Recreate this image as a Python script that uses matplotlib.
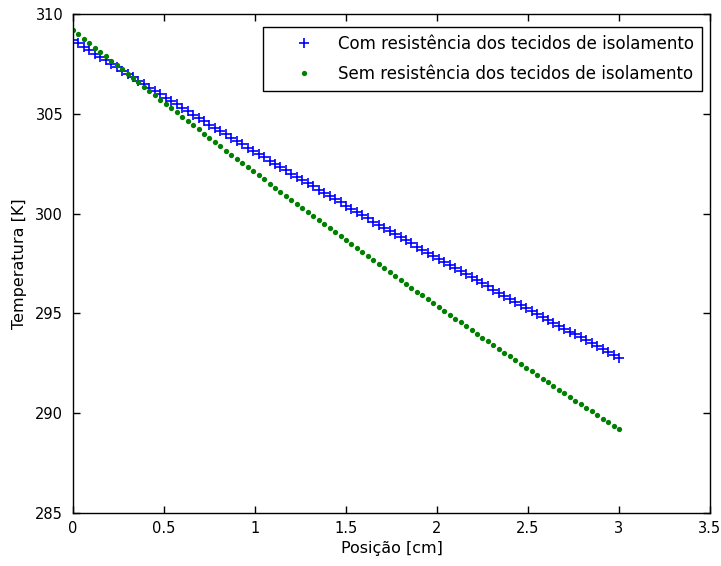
import matplotlib
matplotlib.use("Agg")
import matplotlib.pyplot as plt

# posições [cm], passo 0.03
posicao = [0.00, 0.03, 0.06, 0.09, 0.12, 0.15, 0.18, 0.21, 0.24, 0.27,
           0.30, 0.33, 0.36, 0.39, 0.42, 0.45, 0.48, 0.51, 0.54, 0.57,
           0.60, 0.63, 0.66, 0.69, 0.72, 0.75, 0.78, 0.81, 0.84, 0.87,
           0.90, 0.93, 0.96, 0.99, 1.02, 1.05, 1.08, 1.11, 1.14, 1.17,
           1.20, 1.23, 1.26, 1.29, 1.32, 1.35, 1.38, 1.41, 1.44, 1.47,
           1.50, 1.53, 1.56, 1.59, 1.62, 1.65, 1.68, 1.71, 1.74, 1.77,
           1.80, 1.83, 1.86, 1.89, 1.92, 1.95, 1.98, 2.01, 2.04, 2.07,
           2.10, 2.13, 2.16, 2.19, 2.22, 2.25, 2.28, 2.31, 2.34, 2.37,
           2.40, 2.43, 2.46, 2.49, 2.52, 2.55, 2.58, 2.61, 2.64, 2.67,
           2.70, 2.73, 2.76, 2.79, 2.82, 2.85, 2.88, 2.91, 2.94, 2.97,
           3.00]

# com resistência dos tecidos de isolamento [K]
temp_com = [308.70, 308.53, 308.35, 308.18, 308.01, 307.84, 307.67, 307.50, 307.33, 307.16,
            306.99, 306.82, 306.65, 306.48, 306.31, 306.14, 305.97, 305.80, 305.63, 305.47,
            305.30, 305.13, 304.96, 304.80, 304.63, 304.46, 304.30, 304.13, 303.97, 303.80,
            303.64, 303.47, 303.31, 303.14, 302.98, 302.82, 302.65, 302.49, 302.33, 302.17,
            302.00, 301.84, 301.68, 301.52, 301.36, 301.20, 301.04, 300.88, 300.72, 300.56,
            300.40, 300.24, 300.08, 299.92, 299.76, 299.60, 299.45, 299.29, 299.13, 298.97,
            298.82, 298.66, 298.51, 298.35, 298.19, 298.04, 297.88, 297.73, 297.57, 297.42,
            297.27, 297.11, 296.96, 296.81, 296.65, 296.50, 296.35, 296.19, 296.04, 295.89,
            295.74, 295.59, 295.44, 295.29, 295.14, 294.99, 294.84, 294.69, 294.54, 294.39,
            294.24, 294.09, 293.95, 293.80, 293.65, 293.50, 293.36, 293.21, 293.06, 292.92,
            292.77]

# sem resistência dos tecidos de isolamento [K]
temp_sem = [309.20, 308.98, 308.76, 308.54, 308.32, 308.10, 307.88, 307.66, 307.44, 307.22,
            307.00, 306.79, 306.57, 306.35, 306.14, 305.92, 305.71, 305.49, 305.28, 305.07,
            304.85, 304.64, 304.43, 304.22, 304.00, 303.79, 303.58, 303.37, 303.16, 302.95,
            302.74, 302.53, 302.33, 302.12, 301.91, 301.71, 301.50, 301.29, 301.09, 300.88,
            300.68, 300.47, 300.27, 300.07, 299.86, 299.66, 299.46, 299.26, 299.06, 298.86,
            298.66, 298.46, 298.26, 298.06, 297.86, 297.66, 297.46, 297.26, 297.07, 296.87,
            296.68, 296.48, 296.28, 296.09, 295.90, 295.70, 295.51, 295.32, 295.12, 294.93,
            294.74, 294.55, 294.36, 294.17, 293.98, 293.79, 293.60, 293.41, 293.22, 293.03,
            292.85, 292.66, 292.47, 292.29, 292.10, 291.92, 291.73, 291.55, 291.36, 291.18,
            291.00, 290.81, 290.63, 290.45, 290.27, 290.09, 289.91, 289.73, 289.55, 289.37,
            289.19]

xticks = [0, 0.5, 1, 1.5, 2, 2.5, 3, 3.5]
yticks = [285, 290, 295, 300, 305, 310]

plt.rcParams["font.family"] = ["DejaVu Sans"]
plt.rcParams["font.size"] = 11

fig = plt.figure(figsize=(7.21, 5.66), dpi=100)
ax = fig.add_axes([0.1012, 0.0936, 0.8835, 0.8817])

ax.plot(posicao, temp_com, linestyle="none", marker="+", color=(0, 0, 1),
        markersize=7.5, markeredgewidth=1.2,
        label="Com resistência dos tecidos de isolamento")
ax.plot(posicao, temp_sem, linestyle="none", marker="o", color=(0, 0.5, 0),
        markersize=3.8, markeredgewidth=0,
        label="Sem resistência dos tecidos de isolamento")

ax.set_xlim(0, 3.5)
ax.set_ylim(285, 310)
ax.set_xticks(xticks)
ax.set_xticklabels(["0", "0.5", "1", "1.5", "2", "2.5", "3", "3.5"])
ax.set_yticks(yticks)
ax.tick_params(direction="in", top=True, right=True, length=5, width=1,
               labelsize=10.5)
ax.tick_params(axis="x", pad=6)
ax.tick_params(axis="y", pad=7)
for s in ax.spines.values():
    s.set_linewidth(1)

ax.set_xlabel("Posição [cm]", fontsize=11.5, labelpad=3)
ax.set_ylabel("Temperatura [K]", fontsize=11.5, labelpad=6)

leg = ax.legend(loc="upper right", bbox_to_anchor=(0.9874, 0.974),
                fontsize=12, fancybox=False, edgecolor="black", framealpha=1,
                borderpad=0.5, labelspacing=0.68, handletextpad=0.0,
                handlelength=4.0, borderaxespad=0)
leg.get_frame().set_linewidth(1)

fig.savefig("out.png", dpi=100)
